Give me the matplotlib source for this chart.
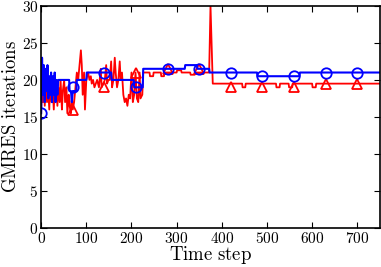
import numpy as np
import matplotlib
matplotlib.use('Agg')
import matplotlib.pyplot as plt
from matplotlib.ticker import FuncFormatter

plt.rcParams['mathtext.fontset'] = 'cm'
plt.rcParams['font.family'] = 'serif'
plt.rcParams['font.serif'] = ['DejaVu Serif']

# blue series (GMRES iterations, first solver)
t_blue = [0, 2, 4, 6, 8, 10, 12, 14, 16, 18, 20, 22, 24, 26, 28, 30, 32, 34, 36, 38,
          40, 62, 63, 66, 68, 70, 72, 78, 79, 100, 101, 155, 156, 205, 206, 225, 226,
          318, 319, 345, 346, 372, 373, 478, 479, 572, 573, 750]
v_blue = [15.5, 23, 18, 22, 17, 21.5, 18.5, 22, 17.5, 20.5, 18, 21, 17, 20.5, 18, 21, 17, 20, 18, 20,
          20, 20, 18.5, 18.5, 17, 18.5, 18.5, 18.5, 20, 20, 21, 21, 20, 20, 19, 19, 21.5,
          21.5, 22, 22, 21.5, 21.5, 21, 21, 20.5, 20.5, 21, 21]

# red series (GMRES iterations, second solver)
t_red = [0, 2, 4, 6, 8, 10, 13, 15, 18, 20, 23, 25, 28, 30, 33, 36, 38, 41, 43, 46,
         48, 51, 53, 56, 58, 61, 63, 66, 68, 70, 73, 76, 79, 82, 85, 88, 90, 92, 95, 97,
         100, 104, 107, 110, 112, 115, 118, 121, 124, 128, 132, 134, 138, 141, 144, 146, 149,
         152, 155, 157, 160, 163, 165, 168, 171, 174, 176, 179, 182, 185, 188, 191, 194, 197,
         200, 203, 206, 209, 212, 215, 218, 220, 224, 226, 240, 241, 248, 249, 265, 266, 272,
         273, 300, 301, 310, 311, 330, 331, 340, 341, 372, 375, 380, 445, 446, 452, 453,
         520, 521, 528, 529, 548, 549, 556, 557, 600, 601, 608, 609, 750]
v_red = [15.5, 20, 17, 20, 16.5, 20, 17, 19.5, 16, 20, 17, 19.5, 16, 19, 20, 16.5, 19, 17, 20, 16,
         18.5, 20, 17, 19, 15.5, 18, 16.5, 15.5, 18, 16, 17, 19, 21, 20, 22, 24, 22, 18, 21, 16,
         20, 21, 20, 20.5, 19.5, 20, 19, 19.5, 20, 19, 21.5, 19, 19.5, 20, 22, 19.5, 20,
         20, 22.5, 19, 20, 23, 21, 19, 20, 22.5, 20, 21, 18, 17, 17.5, 16.5, 18, 17.5,
         21, 17, 18, 21, 17.5, 17, 21, 17.5, 18, 21, 21, 20.5, 20.5, 21, 21, 20.5, 20.5,
         21, 21, 21.3, 21.3, 21, 21, 20.7, 20.7, 21, 21, 30, 19.5, 19.5, 19, 19, 19.5,
         19.5, 19, 19, 19.5, 19.5, 19, 19, 19.5, 19.5, 19, 19, 19.5, 19.5]

# marker positions
mk_t = [0, 70, 140, 210, 280, 350, 420, 490, 560, 630, 700]
mk_blue = [15.5, 19, 21, 19, 21.5, 21.5, 21, 20.5, 20.5, 21, 21]
mk_t_red = [70, 140, 210, 280, 350, 420, 490, 560, 630, 700]
mk_red = [16, 19, 21, 21.5, 21.5, 19, 19, 19, 19.5, 19.5]

fig = plt.figure(figsize=(3.81, 2.67), dpi=100)
ax = fig.add_axes([0.108, 0.146, 0.889, 0.832])

ax.plot(t_red, v_red, color='red', lw=1.3)
ax.plot(mk_t_red, mk_red, ls='none', marker='^', ms=7.5, mfc='none', mec='red', mew=1.3)
ax.plot(t_blue, v_blue, color='blue', lw=1.5)
ax.plot(mk_t, mk_blue, ls='none', marker='o', ms=7.5, mfc='none', mec='blue', mew=1.3)

ax.set_xlim(0, 750)
ax.set_ylim(0, 30)
ax.set_xticks([0, 100, 200, 300, 400, 500, 600, 700])
ax.set_yticks([0, 5, 10, 15, 20, 25, 30])
fmt = FuncFormatter(lambda v, p: r'$%d$' % v)
ax.xaxis.set_major_formatter(fmt)
ax.yaxis.set_major_formatter(fmt)
ax.tick_params(direction='in', top=True, right=True, length=4, width=0.8, labelsize=11, pad=2)
for s in ax.spines.values():
    s.set_linewidth(1.2)

ax.set_xlabel(r'$\mathrm{Time\ step}$', fontsize=13.5, labelpad=-1)
ax.set_ylabel(r'$\mathrm{GMRES\ iterations}$', fontsize=13.5, labelpad=1)

fig.savefig('out.png', dpi=100)
